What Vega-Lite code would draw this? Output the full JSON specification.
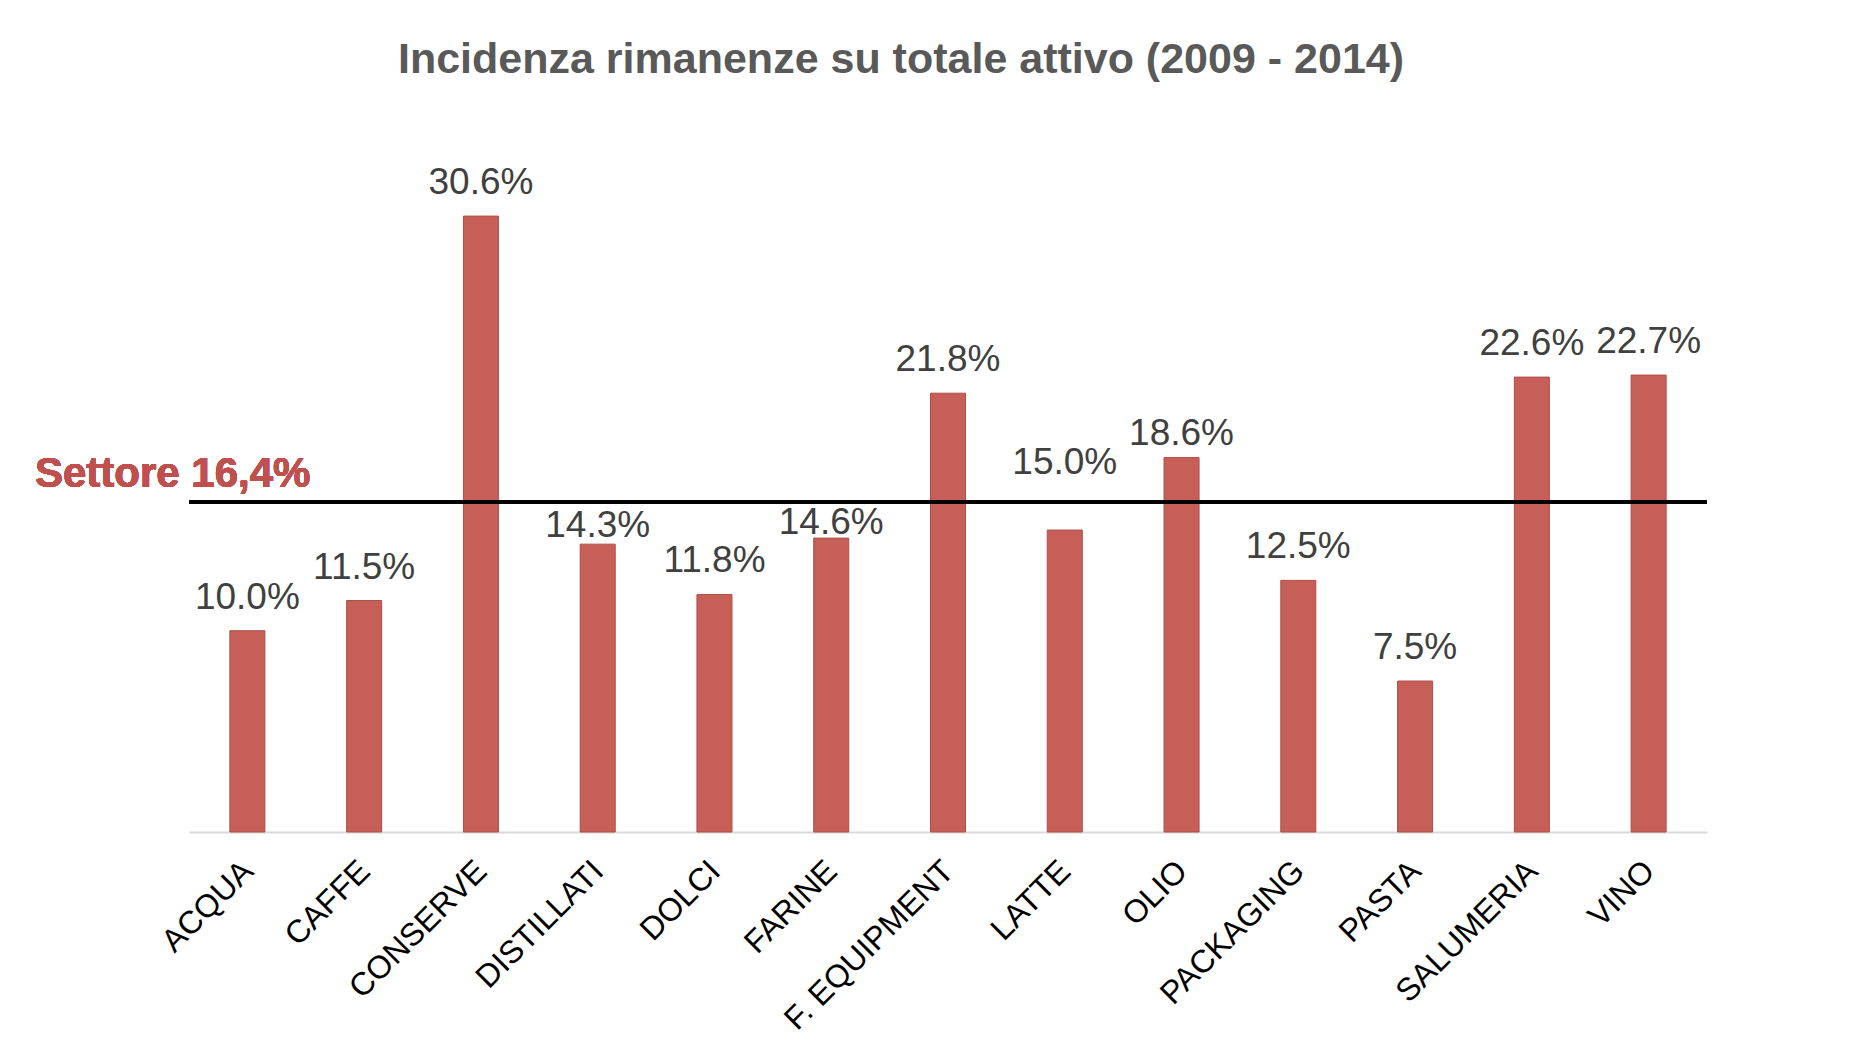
{
  "$schema": "https://vega.github.io/schema/vega-lite/v6.json",
  "autosize": {"type": "none"},
  "width": 1518,
  "height": 704.5,
  "padding": {"left": 189, "top": 127.5, "right": 165, "bottom": 211},
  "background": "white",
  "config": {"view": {"stroke": null}, "font": "Liberation Sans"},
  "title": {
    "text": "Incidenza rimanenze su totale attivo (2009 - 2014)",
    "font": "Liberation Sans",
    "fontSize": 43,
    "fontWeight": "bold",
    "color": "#595959",
    "anchor": "middle",
    "dx": -47,
    "offset": 46
  },
  "data": {
    "values": [
      {"settore": "ACQUA", "valore": 0.100},
      {"settore": "CAFFE", "valore": 0.115},
      {"settore": "CONSERVE", "valore": 0.306},
      {"settore": "DISTILLATI", "valore": 0.143},
      {"settore": "DOLCI", "valore": 0.118},
      {"settore": "FARINE", "valore": 0.146},
      {"settore": "F. EQUIPMENT", "valore": 0.218},
      {"settore": "LATTE", "valore": 0.150},
      {"settore": "OLIO", "valore": 0.186},
      {"settore": "PACKAGING", "valore": 0.125},
      {"settore": "PASTA", "valore": 0.075},
      {"settore": "SALUMERIA", "valore": 0.226},
      {"settore": "VINO", "valore": 0.227}
    ]
  },
  "encoding": {
    "x": {
      "field": "settore",
      "type": "nominal",
      "sort": null,
      "scale": {"paddingInner": 0.7, "paddingOuter": 0.35},
      "axis": {
        "title": null,
        "domain": true,
        "domainColor": "#d9d9d9",
        "domainWidth": 2,
        "ticks": false,
        "labelAngle": -45,
        "labelAlign": "right",
        "labelBaseline": "top",
        "labelFont": "Liberation Sans",
        "labelFontSize": 32,
        "labelColor": "#000000",
        "labelPadding": 23,
        "labelOffset": -10,
        "labelLimit": 0,
        "labelOverlap": false
      }
    },
    "y": {
      "field": "valore",
      "type": "quantitative",
      "scale": {"domain": [0, 0.35], "nice": false},
      "axis": null
    }
  },
  "layer": [
    {
      "mark": {"type": "bar", "color": "#c65f57", "stroke": "#b04e48", "strokeWidth": 1}
    },
    {
      "transform": [{"filter": "datum.settore !== 'DISTILLATI' && datum.settore !== 'FARINE' && datum.settore !== 'LATTE' && datum.settore !== 'OLIO'"}],
      "mark": {"type": "text", "baseline": "middle", "align": "center", "dy": -33, "fontSize": 37, "font": "Liberation Sans", "color": "#404040"},
      "encoding": {"text": {"field": "valore", "type": "quantitative", "format": ".1%"}}
    },
    {
      "transform": [{"filter": "datum.settore === 'DISTILLATI'"}],
      "mark": {"type": "text", "baseline": "middle", "align": "center", "dy": -18, "fontSize": 37, "font": "Liberation Sans", "color": "#404040"},
      "encoding": {"text": {"field": "valore", "type": "quantitative", "format": ".1%"}}
    },
    {
      "transform": [{"filter": "datum.settore === 'FARINE'"}],
      "mark": {"type": "text", "baseline": "middle", "align": "center", "dy": -15.5, "fontSize": 37, "font": "Liberation Sans", "color": "#404040"},
      "encoding": {"text": {"field": "valore", "type": "quantitative", "format": ".1%"}}
    },
    {
      "transform": [{"filter": "datum.settore === 'LATTE'"}],
      "mark": {"type": "text", "baseline": "middle", "align": "center", "dy": -67.5, "fontSize": 37, "font": "Liberation Sans", "color": "#404040"},
      "encoding": {"text": {"field": "valore", "type": "quantitative", "format": ".1%"}}
    },
    {
      "transform": [{"filter": "datum.settore === 'OLIO'"}],
      "mark": {"type": "text", "baseline": "middle", "align": "center", "dy": -23.5, "fontSize": 37, "font": "Liberation Sans", "color": "#404040"},
      "encoding": {"text": {"field": "valore", "type": "quantitative", "format": ".1%"}}
    },
    {
      "mark": {"type": "rule", "color": "#000000", "strokeWidth": 2.5},
      "encoding": {"x": null, "y": {"datum": 0.164, "type": "quantitative"}}
    },
    {
      "mark": {"type": "text", "text": "Settore 16,4%", "align": "right", "baseline": "middle", "dx": 63, "dy": -28, "fontSize": 42, "fontWeight": "bold", "font": "Liberation Sans", "color": "#c0504d"},
      "encoding": {"x": {"datum": "ACQUA"}, "y": {"datum": 0.164, "type": "quantitative"}}
    }
  ]
}
